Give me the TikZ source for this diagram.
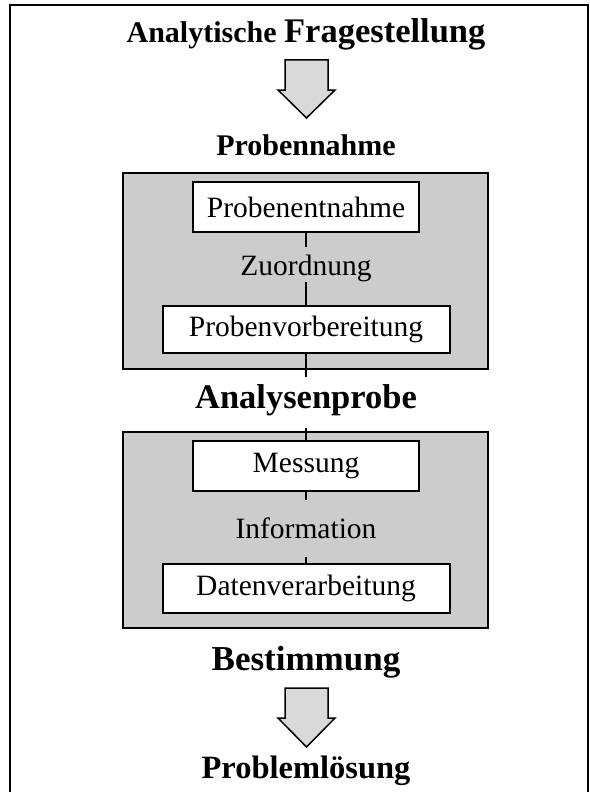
\documentclass[tikz,border=0pt]{standalone}
\usepackage{fontspec}
\setmainfont{Liberation Serif}
\definecolor{panelgray}{gray}{0.8}
\definecolor{arrowgray}{gray}{0.85}
\tikzset{
  panel/.style={draw,line width=2pt,fill=panelgray},
  stepbox/.style={draw,line width=2pt,fill=white,inner sep=0pt,font=\fontsize{29.5}{32}\selectfont},
  link/.style={line width=2pt},
  spacer/.style 2 args={inner xsep=2pt,inner ysep=0pt,text height=#1,text depth=#2},
  bigarrow/.style={draw,line width=1.5pt,fill=arrowgray},
}
\begin{document}
\begin{tikzpicture}[x=1pt,y=-1pt]
  \useasboundingbox (0,0) rectangle (589,792);

  % frame
  \draw[line width=2pt] (10,800) -- (10,5) -- (587.5,5) -- (587.5,800);

  % top
  \node[anchor=base] (title) at (306,43) {\bfseries{\fontsize{30}{32}\selectfont Analytische }{\fontsize{34.5}{37}\selectfont Fragestellung}};
  \draw[bigarrow] (285,60) -- (328,60) -- (328,90) -- (335,90) -- (306.5,118) -- (278,90) -- (285,90) -- cycle;
  \node[anchor=base,font=\bfseries\fontsize{30}{32}\selectfont] (nahme) at (306,155) {Probennahme};

  % Probennahme
  \draw[panel] (123,173) rectangle (488,369);
  \node[stepbox,minimum width=226pt,minimum height=50pt] (entnahme) at (306,207) {Probenentnahme};
  \node[anchor=base,spacer={28pt}{7pt},font=\fontsize{29.5}{32}\selectfont] (zuord) at (306,275) {Zuordnung};
  \node[stepbox,minimum width=287pt,minimum height=47pt] (vorb) at (306,329.5) {Probenvorbereitung};

  % Analysenprobe
  \node[anchor=base,spacer={31pt}{20pt},font=\bfseries\fontsize{34.5}{37}\selectfont] (aprobe) at (306,408) {Analysenprobe};

  % Messung
  \draw[panel] (123,432) rectangle (488,628);
  \node[stepbox,minimum width=226pt,minimum height=50pt] (messung) at (306,466) {Messung};
  \node[anchor=base,spacer={38pt}{19pt},font=\fontsize{29.5}{32}\selectfont] (info) at (306,538) {Information};
  \node[stepbox,minimum width=287pt,minimum height=49pt] (daten) at (306,588.5) {Datenverarbeitung};

  \draw[link] (entnahme) -- (zuord);
  \draw[link] (zuord) -- (vorb);
  \draw[link] (vorb) -- (aprobe);
  \draw[link] (aprobe) -- (messung);
  \draw[link] (messung) -- (info);
  \draw[link] (info) -- (daten);

  % bottom
  \node[anchor=base,font=\bfseries\fontsize{35}{38}\selectfont] (bestimmung) at (306,670) {Bestimmung};
  \draw[bigarrow] (285,688) -- (328,688) -- (328,718) -- (335,718) -- (306.5,747) -- (278,718) -- (285,718) -- cycle;
  \node[anchor=base,font=\bfseries\fontsize{32.5}{35}\selectfont] (loesung) at (306,778) {Problemlösung};
\end{tikzpicture}
\end{document}
